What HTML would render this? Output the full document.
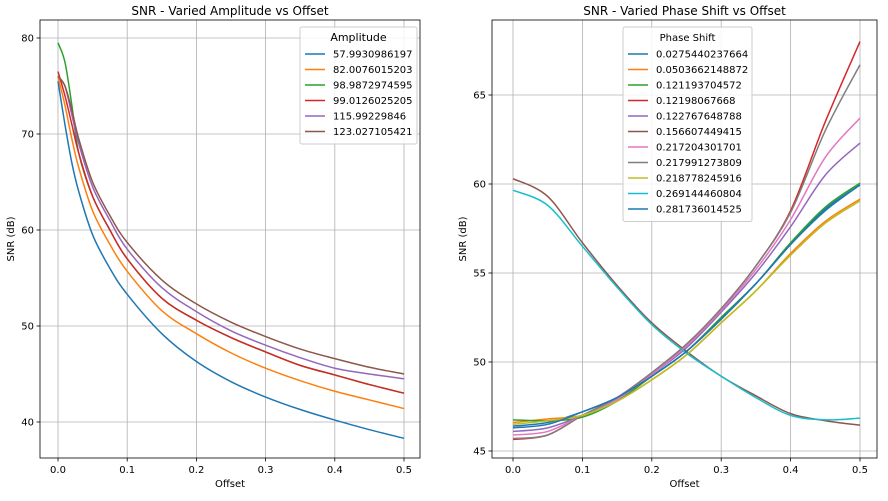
<!DOCTYPE html>
<html><head><meta charset="utf-8"><style>
body{margin:0;background:#fff;font-family:"Liberation Sans","DejaVu Sans",sans-serif}
svg text{font-family:"DejaVu Sans","Liberation Sans",sans-serif}
</style></head><body>
<svg id="c" width="888" height="496" viewBox="0 0 888 496"></svg>
<script>
const leftX=[0,0.01,0.02,0.03,0.05,0.075,0.1,0.15,0.2,0.25,0.3,0.35,0.4,0.45,0.5];
const ampLabels=["57.9930986197","82.0076015203","98.9872974595","99.0126025205","115.99229846","123.027105421"];
const ampBlue=[75.5,71,67,64,59.5,56,53.3,49.2,46.3,44.2,42.6,41.3,40.2,39.2,38.3];
const ampOrange=[76,73,69.5,66.5,62,58.5,55.7,51.6,49.2,47.2,45.6,44.3,43.2,42.3,41.4];
const ampGreen=[79.5,77.5,73,68,63.5,60,57,52.9,50.6,48.8,47.3,45.9,44.9,43.9,43.0];
const ampRed=[76.5,74,71,68,63.5,60,57,52.9,50.6,48.8,47.3,45.9,44.9,43.9,43.0];
const ampPurple=[76,75,72,69,64.5,61,58,54,51.5,49.5,48,46.7,45.6,45,44.5];
const ampBrown=[76,75,72.5,69.5,65,61.5,58.7,54.8,52.3,50.4,48.9,47.6,46.6,45.7,45.0];
const leftYTicks=[40,50,60,70,80];
const xTicks=[0,0.1,0.2,0.3,0.4,0.5];
const rightX=[0,0.05,0.1,0.15,0.2,0.25,0.3,0.35,0.4,0.45,0.5];
const phLabels=["0.0275440237664","0.0503662148872","0.121193704572","0.12198067668","0.122767648788","0.156607449415","0.217204301701","0.217991273809","0.218778245916","0.269144460804","0.281736014525"];
const ph0=[46.4,46.6,47.2,48.0,49.2,50.6,52.5,54.4,56.6,58.6,59.95];
const ph1=[46.6,46.8,47.0,47.8,49.0,50.4,52.2,54.0,56.1,57.9,59.15];
const ph2=[46.75,46.7,46.9,47.8,49.2,50.6,52.5,54.4,56.7,58.7,60.05];
const ph3=[45.65,45.9,47.0,48.0,49.4,51.0,53.0,55.4,58.5,63.5,68.0];
const ph4=[46.1,46.3,47.0,47.9,49.3,50.8,52.8,55.0,57.6,60.5,62.3];
const ph5=[60.3,59.3,56.7,54.3,52.2,50.6,49.2,48.1,47.1,46.7,46.45];
const ph6=[45.9,46.1,47.0,47.9,49.3,50.9,52.9,55.2,58.0,61.5,63.7];
const ph7=[45.7,45.9,47.0,48.0,49.4,51.0,53.0,55.4,58.4,63.0,66.7];
const ph8=[46.5,46.7,47.0,47.8,49.0,50.4,52.2,54.0,56.0,57.8,59.05];
const ph9=[59.65,58.8,56.5,54.2,52.1,50.5,49.2,48.0,47.0,46.75,46.85];
const ph10=[46.3,46.5,47.2,48.0,49.2,50.6,52.4,54.4,56.6,58.5,59.95];
const rightYTicks=[45,50,55,60,65];
const colors=["#1f77b4","#ff7f0e","#2ca02c","#d62728","#9467bd","#8c564b","#e377c2","#7f7f7f","#bcbd22","#17becf","#1f77b4"];
const NS="http://www.w3.org/2000/svg",svg=document.getElementById('c');
function el(t,a,p){const e=document.createElementNS(NS,t);for(const k in a)e.setAttribute(k,a[k]);(p||svg).appendChild(e);return e;}
function smooth(pts){let d="M"+pts[0][0]+","+pts[0][1];for(let i=0;i<pts.length-1;i++){const p0=pts[Math.max(0,i-1)],p1=pts[i],p2=pts[i+1],p3=pts[Math.min(pts.length-1,i+2)];
d+=" C"+(p1[0]+(p2[0]-p0[0])/6)+","+(p1[1]+(p2[1]-p0[1])/6)+" "+(p2[0]-(p3[0]-p1[0])/6)+","+(p2[1]-(p3[1]-p1[1])/6)+" "+p2[0]+","+p2[1];}return d;}
function panel(o){
 const g=el('g',{});
 const sx=v=>o.x0+v*o.kx, sy=v=>o.y0-(v-o.v0)*o.ky;
 xTicks.forEach(t=>{const x=sx(t);const l=el('line',{x1:x,x2:x,y1:o.top,y2:o.bot,stroke:'#b0b0b0','stroke-width':0.8},g);
  el('line',{x1:x,x2:x,y1:o.bot,y2:o.bot+3.5,stroke:'#000','stroke-width':0.8},g);
  const tx=el('text',{x:x,y:o.bot+15,'font-size':10,'text-anchor':'middle'},g);tx.textContent=t.toFixed(1);});
 o.yt.forEach(t=>{const y=sy(t);const l=el('line',{x1:o.left,x2:o.right,y1:y,y2:y,stroke:'#b0b0b0','stroke-width':0.8},g);
  el('line',{x1:o.left-3.5,x2:o.left,y1:y,y2:y,stroke:'#000','stroke-width':0.8},g);
  const tx=el('text',{x:o.left-6,y:y+3.5,'font-size':10,'text-anchor':'end'},g);tx.textContent=t;});
 o.series.forEach((s,i)=>{const p=el('path',{d:smooth(o.xs.map((x,j)=>[sx(x),sy(s[j])])),fill:'none',stroke:colors[i],'stroke-width':1.5},g);});
 const fr=el('rect',{x:o.left,y:o.top,width:o.right-o.left,height:o.bot-o.top,fill:'none',stroke:'#000','stroke-width':0.8},g);
 const ti=el('text',{x:(o.left+o.right)/2,y:o.top-5,'font-size':12,'text-anchor':'middle'},g);ti.textContent=o.title;
 const xl=el('text',{x:(o.left+o.right)/2,y:o.bot+29,'font-size':10,'text-anchor':'middle'},g);xl.textContent='Offset';
 const yl=el('text',{x:0,y:0,'font-size':10,'text-anchor':'middle',transform:`translate(${o.left-26},${(o.top+o.bot)/2}) rotate(-90)`},g);yl.textContent='SNR (dB)';
 const L=o.leg;const lg=el('g',{},g);
 el('rect',{x:L.x,y:L.y,width:L.w,height:24+o.labels.length*15.5,fill:'#fff','fill-opacity':0.85,stroke:'#ccc',rx:2},lg);
 const lt=el('text',{x:L.x+L.w/2,y:L.y+14,'font-size':L.tf,'text-anchor':'middle'},lg);lt.textContent=o.legTitle;
 o.labels.forEach((lb,i)=>{const y=L.y+27+i*15.5;const e=el('g',{},lg);
  el('line',{x1:L.x+5,x2:L.x+25,y1:y,y2:y,stroke:colors[i],'stroke-width':1.5},e);
  const t=el('text',{x:L.x+33,y:y+3.5,'font-size':10},e);t.textContent=lb;});
}
panel({name:'amplitude-chart',left:40,right:420,top:20,bot:458,x0:58,kx:692,y0:422,v0:40,ky:9.6,yt:leftYTicks,xs:leftX,
 series:[ampBlue,ampOrange,ampGreen,ampRed,ampPurple,ampBrown],title:'SNR - Varied Amplitude vs Offset',labels:ampLabels,legTitle:'Amplitude',leg:{x:300,y:27,w:117,tf:11}});
panel({name:'phase-shift-chart',left:492,right:877,top:20,bot:458,x0:513,kx:694,y0:451,v0:45,ky:17.8,yt:rightYTicks,xs:rightX,
 series:[ph0,ph1,ph2,ph3,ph4,ph5,ph6,ph7,ph8,ph9,ph10],title:'SNR - Varied Phase Shift vs Offset',labels:phLabels,legTitle:'Phase Shift',leg:{x:623,y:27,w:129,tf:10}});
</script>
</body></html>
